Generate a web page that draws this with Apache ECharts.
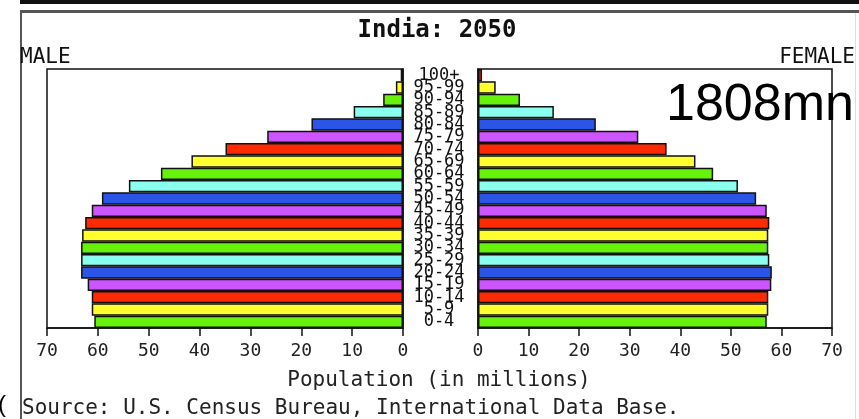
<!DOCTYPE html>
<html><head><meta charset="utf-8">
<script src="https://cdn.jsdelivr.net/npm/echarts@6/dist/echarts.min.js"></script>
<style>html,body{margin:0;padding:0;background:#fff}#c{width:859px;height:419px}</style>
</head><body><div id="c"></div>
<script>
const ageGroups = ['0-4','5-9','10-14','15-19','20-24','25-29','30-34','35-39','40-44','45-49','50-54','55-59','60-64','65-69','70-74','75-79','80-84','85-89','90-94','95-99','100+'];
const maleValues = [60.7, 61.2, 61.2, 62.0, 63.3, 63.3, 63.3, 63.1, 62.5, 61.2, 59.2, 53.9, 47.6, 41.6, 34.9, 26.7, 18.0, 9.7, 3.9, 1.4, 0.45];
const femaleValues = [57.1, 57.4, 57.4, 58.0, 58.1, 57.6, 57.4, 57.4, 57.6, 57.1, 55.0, 51.4, 46.5, 43.0, 37.3, 31.7, 23.3, 15.0, 8.3, 3.5, 0.8];
const xTicks = [0, 10, 20, 30, 40, 50, 60, 70];
const palette = ['#66f20a', '#ffff2e', '#ff2a00', '#cc55ff', '#2a55e6', '#8afff0'];

const mono = 'DejaVu Sans Mono';
const chart = echarts.init(document.getElementById('c'));
const mk = vals => vals.map((v, i) => ({ value: v, itemStyle: { color: palette[i % palette.length] } }));
const xAxisBase = (gi, inverse) => ({
  gridIndex: gi, type: 'value', min: xTicks[0], max: xTicks[xTicks.length - 1], interval: 10, inverse: inverse,
  axisLine: { show: true, lineStyle: { color: '#111', width: 1.5 } },
  axisTick: { show: true, length: 8, inside: false, lineStyle: { color: '#111', width: 1.5 } },
  axisLabel: { fontFamily: mono, fontSize: 18, color: '#222', margin: 14 },
  splitLine: { show: false }
});
chart.setOption({
  animation: false,
  grid: [
    { left: 47, right: 456, top: 69, bottom: 91, show: true, borderColor: '#111', borderWidth: 1.5, backgroundColor: '#fff' },
    { left: 478, right: 27, top: 69, bottom: 91, show: true, borderColor: '#111', borderWidth: 1.5, backgroundColor: '#fff' }
  ],
  xAxis: [xAxisBase(0, true), xAxisBase(1, false)],
  yAxis: [
    { gridIndex: 0, type: 'category', data: ageGroups, position: 'right',
      axisLine: { show: true, lineStyle: { color: '#111', width: 1.5 } }, axisTick: { show: false },
      axisLabel: { interval: 0, align: 'center', margin: 36, fontFamily: mono, fontSize: 17, color: '#111' } },
    { gridIndex: 1, type: 'category', data: ageGroups, position: 'left',
      axisLine: { show: true, lineStyle: { color: '#111', width: 1.5 } }, axisTick: { show: false },
      axisLabel: { show: false } }
  ],
  series: [
    { type: 'bar', xAxisIndex: 0, yAxisIndex: 0, data: mk(maleValues), barCategoryGap: '0%',
      itemStyle: { borderColor: '#111', borderWidth: 1.5 } },
    { type: 'bar', xAxisIndex: 1, yAxisIndex: 1, data: mk(femaleValues), barCategoryGap: '0%',
      itemStyle: { borderColor: '#111', borderWidth: 1.5 } }
  ],
  graphic: [
    { type: 'rect', shape: { x: 20, y: 0, width: 839, height: 4 }, style: { fill: '#111' } },
    { type: 'rect', shape: { x: 20, y: 10, width: 839, height: 3 }, style: { fill: '#555' } },
    { type: 'rect', shape: { x: 20, y: 10, width: 2, height: 409 }, style: { fill: '#555' } },
    { type: 'rect', shape: { x: 855, y: 13, width: 1, height: 406 }, style: { fill: '#ddd' } },
    { type: 'text', x: 437, y: 31, style: { text: 'India: 2050', font: 'bold 24px "DejaVu Sans Mono"', fill: '#111', textAlign: 'center', textVerticalAlign: 'middle' } },
    { type: 'text', x: 20, y: 58, style: { text: 'MALE', font: '21px "DejaVu Sans Mono"', fill: '#111', textAlign: 'left', textVerticalAlign: 'middle' } },
    { type: 'text', x: 855, y: 58, style: { text: 'FEMALE', font: '21px "DejaVu Sans Mono"', fill: '#111', textAlign: 'right', textVerticalAlign: 'middle' } },
    { type: 'text', x: 439, y: 381, style: { text: 'Population (in millions)', font: '21px "DejaVu Sans Mono"', fill: '#222', textAlign: 'center', textVerticalAlign: 'middle' } },
    { type: 'text', x: 22, y: 409, style: { text: 'Source: U.S. Census Bureau, International Data Base.', font: '21px "DejaVu Sans Mono"', fill: '#222', textAlign: 'left', textVerticalAlign: 'middle' } },
    { type: 'text', x: 666, y: 106, style: { text: '1808mn', font: '52px "Liberation Sans"', fill: '#000', textAlign: 'left', textVerticalAlign: 'middle' } },
    { type: 'text', x: -2, y: 405, style: { text: '(', font: '24px "Liberation Sans"', fill: '#000', textAlign: 'left', textVerticalAlign: 'middle' } }
  ]
});
</script></body></html>
